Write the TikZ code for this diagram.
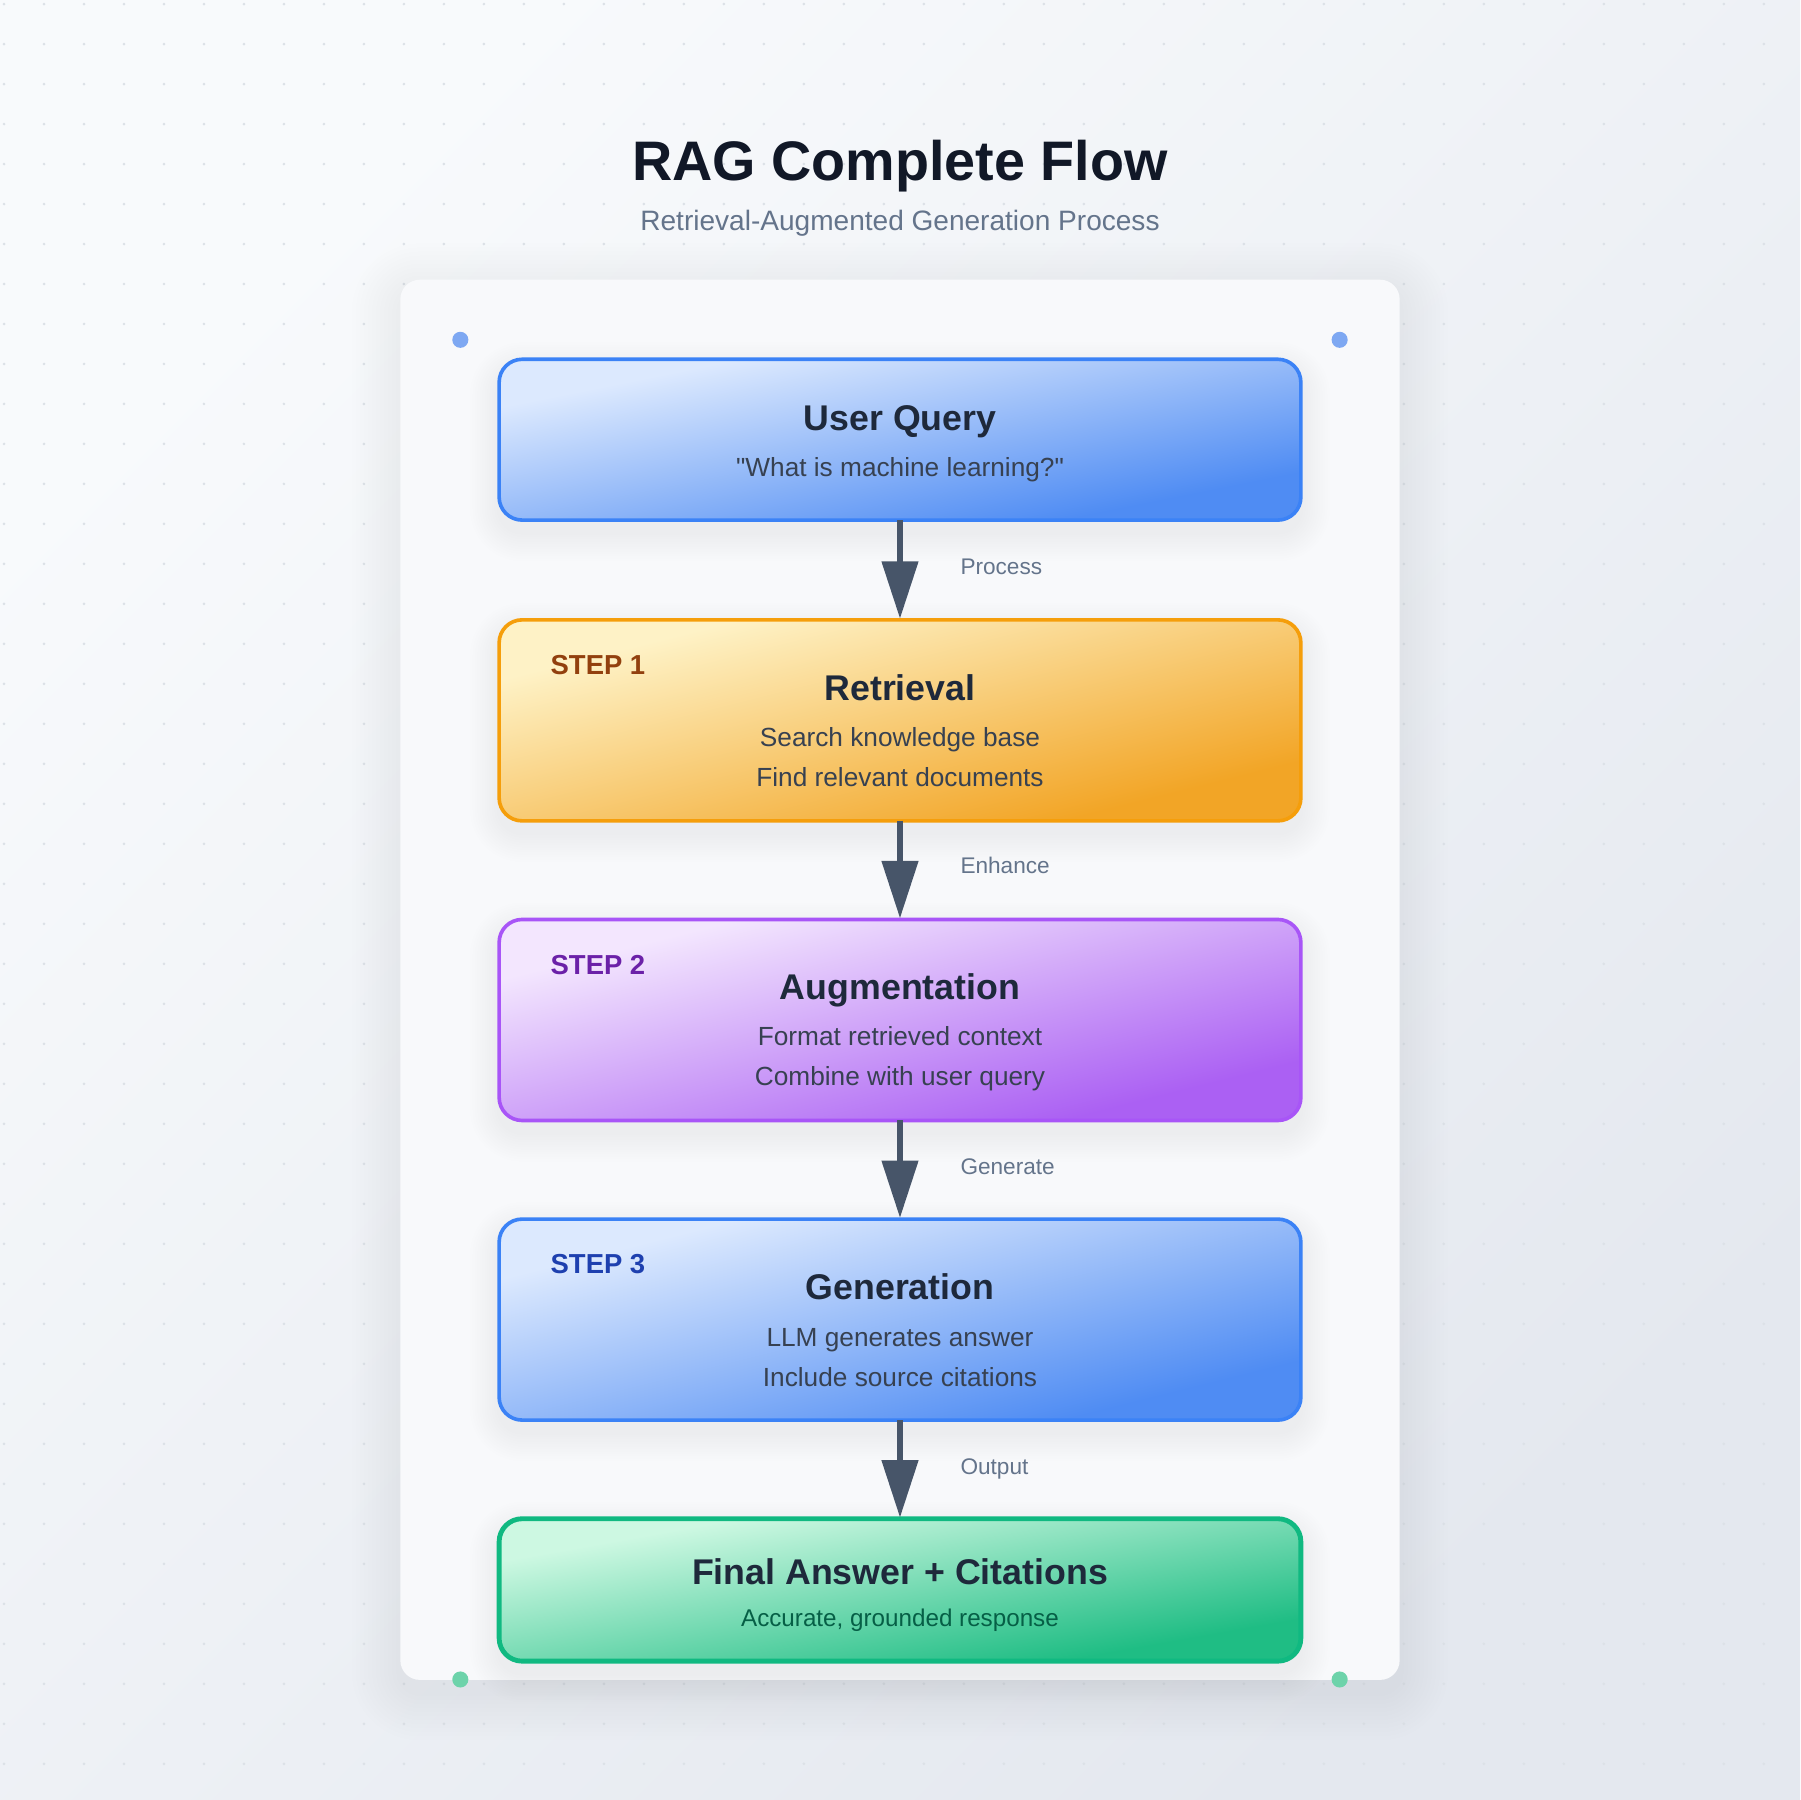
\documentclass[tikz,border=0pt]{standalone}
\usepackage{fontspec}
\setmainfont{Liberation Sans}[Ligatures=TeXOff]
\usetikzlibrary{arrows.meta}
\definecolor{bgA}{HTML}{F8FAFC}
\definecolor{bgB}{HTML}{E4E8EF}
\definecolor{bgdot}{HTML}{DCE1E7}
\definecolor{cardfill}{HTML}{F8F9FB}
\definecolor{titlec}{HTML}{111827}
\definecolor{subc}{HTML}{64748B}
\definecolor{headc}{HTML}{1E293B}
\definecolor{bodyc}{HTML}{374151}
\definecolor{arrowc}{HTML}{475569}
\definecolor{blueA}{HTML}{DCE9FE}
\definecolor{blueB}{HTML}{3B82F6}
\definecolor{blueC}{HTML}{4F8CF3}
\definecolor{orA}{HTML}{FEF2C6}
\definecolor{orB}{HTML}{F59E0B}
\definecolor{orC}{HTML}{F2A526}
\definecolor{puA}{HTML}{F3E6FE}
\definecolor{puB}{HTML}{A855F7}
\definecolor{puC}{HTML}{AB60F3}
\definecolor{grA}{HTML}{CDF8E2}
\definecolor{grB}{HTML}{10B981}
\definecolor{grC}{HTML}{1FBD84}
\definecolor{step1c}{HTML}{92400E}
\definecolor{step2c}{HTML}{6B21A8}
\definecolor{step3c}{HTML}{1E40AF}
\definecolor{finsubc}{HTML}{065F46}
\definecolor{dotblue}{HTML}{7EA8F2}
\definecolor{dotgreen}{HTML}{6DD3AA}
\newcommand{\rgTitle}{\fontsize{13.8pt}{16pt}\selectfont\bfseries}
\newcommand{\rgSub}{\fontsize{6.95pt}{8pt}\selectfont}
\newcommand{\rgHead}{\fontsize{8.85pt}{10pt}\selectfont\bfseries}
\newcommand{\rgBody}{\fontsize{6.5pt}{7.5pt}\selectfont}
\newcommand{\rgSmall}{\fontsize{6.0pt}{7pt}\selectfont}
\newcommand{\rgStep}{\fontsize{6.8pt}{8pt}\selectfont\bfseries}
\newcommand{\rgLab}{\fontsize{5.6pt}{7pt}\selectfont}
% soft shadow: #1 node, #2 corner radius, #3 steps, #4 step size, #5 opacity, #6 drop
\newcommand{\rgshadow}[6]{%
  \foreach \k in {1,...,#3}{%
    \fill[black, fill opacity=#5, rounded corners={#2+\k*#4}]
      ([xshift={-\k*#4}, yshift={\k*#4-#6}]#1.north west) rectangle
      ([xshift={\k*#4}, yshift={-\k*#4-#6}]#1.south east);
  }}
% diagonal gradient stretched to the box: #1 node, #2 half height, #3 xscale, #4 light, #5 dark
\newcommand{\rggrad}[5]{%
  \begin{scope}
    \clip[rounded corners=0.2cm] (#1.north west) rectangle (#1.south east);
    \begin{scope}[transform canvas={shift={(#1.center)}, xscale=#3}]
      \shade[top color=#4, bottom color=#5, shading angle=45] (-#2,-#2) rectangle (#2,#2);
    \end{scope}
  \end{scope}}
\begin{document}
\begin{tikzpicture}[x=0.01cm,y=-0.01cm,
  cardshape/.style={minimum width=8.7cm, minimum height=12.19cm, inner sep=0pt, outer sep=0pt},
  boxshape/.style={minimum width=6.98cm, inner sep=0pt, outer sep=0pt},
  boxborder/.style={rounded corners=0.2cm, line width=0.9pt},
  headtxt/.style={anchor=base, inner sep=0pt, text=headc, font=\rgHead},
  bodytxt/.style={anchor=base, inner sep=0pt, text=bodyc, font=\rgBody},
  steptxt/.style={anchor=base west, inner sep=0pt, font=\rgStep},
  labtxt/.style={anchor=base west, inner sep=0pt, text=subc, font=\rgLab},
  flow/.style={draw=arrowc, line width=1.45pt, -{Triangle[width=0.31cm,length=0.5cm]}, shorten >=0.01cm},
  cornerdot/.style={circle, inner sep=0pt, minimum size=0.14cm}
]
\useasboundingbox (0,0) rectangle (1568,1568);
\shade[top color=bgA, bottom color=bgB, shading angle=45] (0,0) rectangle (1568,1568);
\foreach \i in {0,...,44}{
  \foreach \j in {0,...,44}{
    \fill[bgdot] ({3.5+\i*34.84},{3.5+\j*34.84}) circle (1.3);
  }
}
% titles
\node[anchor=base, inner sep=0pt, text=titlec, font=\rgTitle] (ttl) at (784,157) {RAG Complete Flow};
\node[anchor=base, inner sep=0pt, text=subc, font=\rgSub] (sttl) at (784,201) {Retrieval-Augmented Generation Process};
% card
\node[cardshape] (card) at (784,853.5) {};
\rgshadow{card}{0.17cm}{12}{1pt}{0.0035}{3pt}
\fill[cardfill, rounded corners=0.17cm] (card.north west) rectangle (card.south east);
\node[cornerdot, fill=dotblue] (d1) at (401,296) {};
\node[cornerdot, fill=dotblue] (d2) at (1167,296) {};
\node[cornerdot, fill=dotgreen] (d3) at (401,1463) {};
\node[cornerdot, fill=dotgreen] (d4) at (1167,1463) {};
% boxes
\node[boxshape, minimum height=1.4cm] (q) at (784,383) {};
\node[boxshape, minimum height=1.75cm] (ret) at (784,627.5) {};
\node[boxshape, minimum height=1.75cm] (aug) at (784,888.5) {};
\node[boxshape, minimum height=1.75cm] (gen) at (784,1149.5) {};
\node[boxshape, minimum height=1.24cm] (fin) at (784,1385) {};
\foreach \b in {q,ret,aug,gen,fin}{\rgshadow{\b}{0.2cm}{12}{0.6pt}{0.005}{3pt}}
\rggrad{q}{70}{4.986}{blueA}{blueC}
\rggrad{ret}{87.5}{3.989}{orA}{orC}
\rggrad{aug}{87.5}{3.989}{puA}{puC}
\rggrad{gen}{87.5}{3.989}{blueA}{blueC}
\rggrad{fin}{62}{5.629}{grA}{grC}
\draw[boxborder, draw=blueB] (q.north west) rectangle (q.south east);
\draw[boxborder, draw=orB] (ret.north west) rectangle (ret.south east);
\draw[boxborder, draw=puB] (aug.north west) rectangle (aug.south east);
\draw[boxborder, draw=blueB] (gen.north west) rectangle (gen.south east);
\draw[boxborder, draw=grB, line width=1.2pt] (fin.north west) rectangle (fin.south east);
% box 1 text
\node[headtxt] (qh) at (784,375) {User Query};
\node[bodytxt] (qb) at (784,415) {\symbol{34}What is machine learning?\symbol{34}};
% box 2 text
\node[steptxt, text=step1c] (s1) at (479,587.5) {STEP 1};
\node[headtxt] (reth) at (784,610) {Retrieval};
\node[bodytxt] (retb1) at (784,650) {Search knowledge base};
\node[bodytxt] (retb2) at (784,685) {Find relevant documents};
% box 3 text
\node[steptxt, text=step2c] (s2) at (479,848.5) {STEP 2};
\node[headtxt] (augh) at (784,871) {Augmentation};
\node[bodytxt] (augb1) at (784,911) {Format retrieved context};
\node[bodytxt] (augb2) at (784,946) {Combine with user query};
% box 4 text
\node[steptxt, text=step3c] (s3) at (479,1109.5) {STEP 3};
\node[headtxt] (genh) at (784,1132) {Generation};
\node[bodytxt] (genb1) at (784,1173) {LLM generates answer};
\node[bodytxt] (genb2) at (784,1208) {Include source citations};
% box 5 text
\node[headtxt] (finh) at (784,1380) {Final Answer + Citations};
\node[anchor=base, inner sep=0pt, text=finsubc, font=\rgSmall] (finb) at (784,1417) {Accurate, grounded response};
% arrows
\draw[flow] (q.south) -- (ret.north);
\draw[flow] (ret.south) -- (aug.north);
\draw[flow] (aug.south) -- (gen.north);
\draw[flow] (gen.south) -- (fin.north);
\node[labtxt] (l1) at (836,500) {Process};
\node[labtxt] (l2) at (836,761) {Enhance};
\node[labtxt] (l3) at (836,1023) {Generate};
\node[labtxt] (l4) at (836,1284) {Output};
\end{tikzpicture}
\end{document}
